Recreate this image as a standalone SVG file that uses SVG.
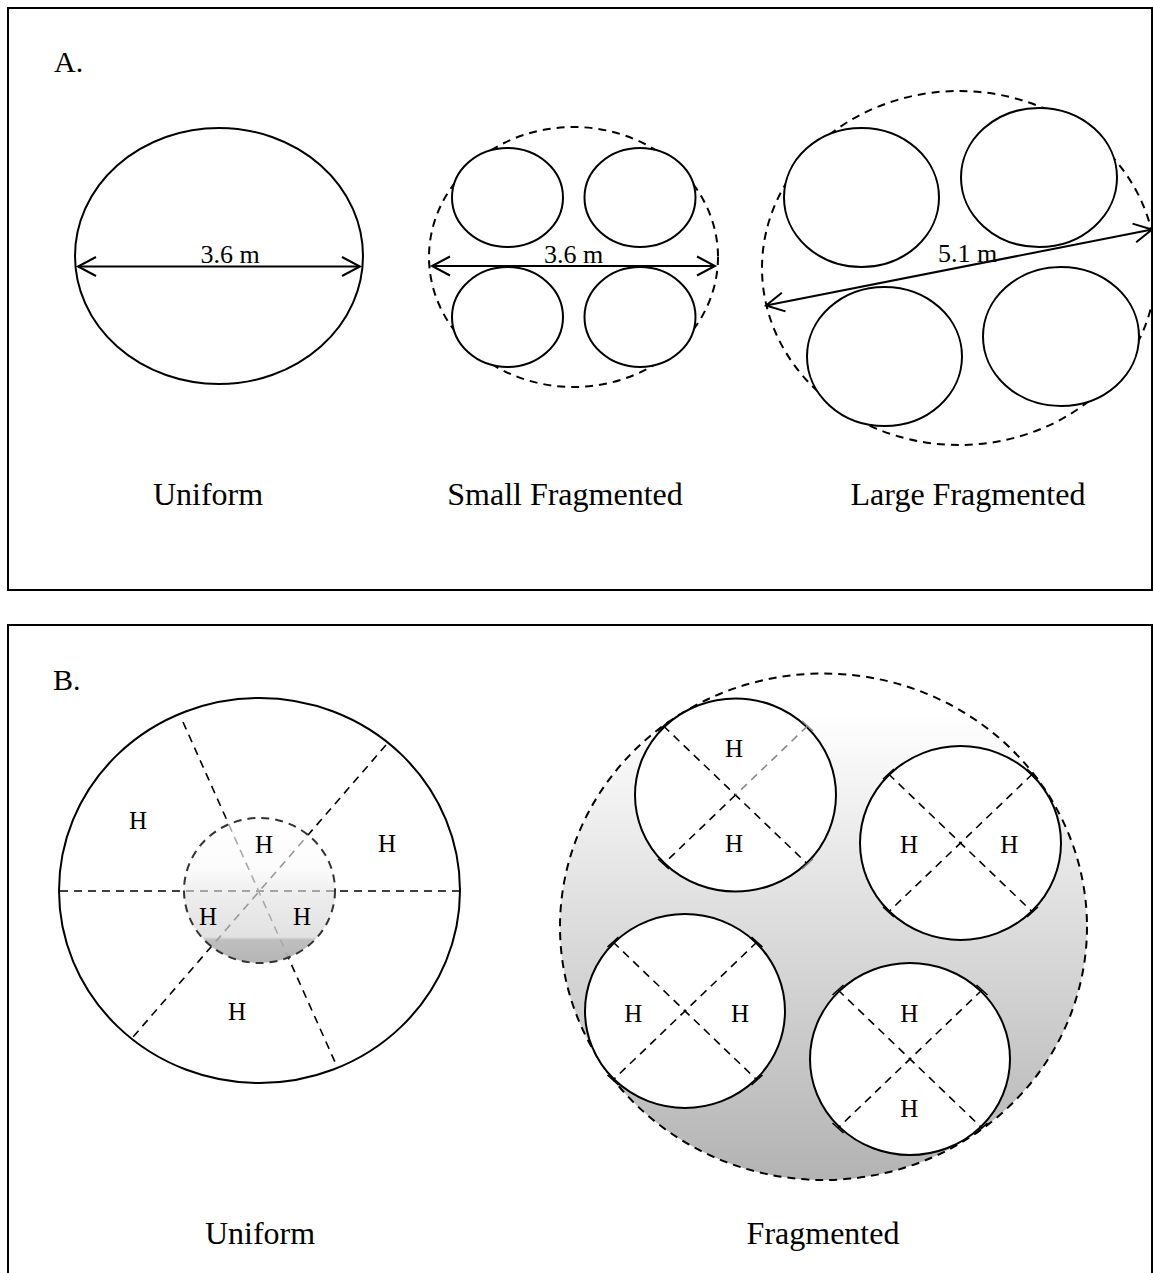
<svg xmlns="http://www.w3.org/2000/svg" width="1153" height="1273" viewBox="0 0 1153 1273">
<style>
.frame{fill:none;stroke:#000;stroke-width:2}
.solid{fill:#fff;stroke:#000;stroke-width:2}
.dashc{fill:none;stroke:#000;stroke-width:2;stroke-dasharray:8 6}
.dl{fill:none;stroke:#000;stroke-width:1.6;stroke-dasharray:8 6}
.tick{stroke:#000;stroke-width:1.6}
.arrow{stroke:#000;stroke-width:2;fill:none;marker-start:url(#arr);marker-end:url(#arr)}
.cap{font-family:"Liberation Serif","Times New Roman",serif;font-size:32px;fill:#000;text-anchor:middle}
.pl{font-family:"Liberation Serif","Times New Roman",serif;font-size:30px;fill:#000}
.dim{font-family:"Liberation Serif","Times New Roman",serif;font-size:26px;fill:#000;text-anchor:middle}
.h{font-family:"Liberation Serif","Times New Roman",serif;font-size:25px;fill:#000;text-anchor:middle}
</style>
<defs>
<marker id="arr" markerUnits="userSpaceOnUse" markerWidth="24" markerHeight="24" viewBox="0 0 24 24" refX="21" refY="12" orient="auto-start-reverse">
<path d="M3,2.5 L21,12 L3,21.5" fill="none" stroke="#000" stroke-width="2"/>
</marker>
<linearGradient id="gInner" x1="0" y1="0" x2="0" y2="1">
<stop offset="0" stop-color="#ffffff"/>
<stop offset="0.35" stop-color="#fbfbfb"/>
<stop offset="0.55" stop-color="#ececec"/>
<stop offset="0.82" stop-color="#e2e2e2"/>
<stop offset="0.84" stop-color="#bfbfbf"/>
<stop offset="1" stop-color="#b5b5b5"/>
</linearGradient>
<linearGradient id="gFrag" x1="0" y1="0" x2="0" y2="1">
<stop offset="0.08" stop-color="#ffffff"/>
<stop offset="1" stop-color="#b3b3b3"/>
</linearGradient>
<clipPath id="clipInner"><ellipse cx="259.5" cy="890.5" rx="75.5" ry="72.5"/></clipPath>
</defs>

<rect id="panelA" class="frame" x="8" y="8" width="1144" height="582"/>
<rect id="panelB" class="frame" x="8" y="625" width="1144" height="680"/>
<text class="pl" x="54" y="72">A.</text>
<text class="pl" x="53" y="690">B.</text>

<g id="A-uniform">
<ellipse class="solid" cx="219" cy="256" rx="144" ry="128"/>
<text class="dim" x="230" y="263">3.6 m</text>
<text class="cap" x="208" y="505">Uniform</text>
</g>

<g id="A-small">
<ellipse class="dashc" cx="573.5" cy="257" rx="144.5" ry="130"/>
<ellipse class="solid" cx="507.5" cy="197.5" rx="55.5" ry="49.5"/>
<ellipse class="solid" cx="640" cy="197.5" rx="55.5" ry="49.5"/>
<ellipse class="solid" cx="507.5" cy="317" rx="55.5" ry="50"/>
<ellipse class="solid" cx="640" cy="317" rx="55.5" ry="50"/>
<text class="cap" x="565" y="505">Small Fragmented</text>
</g>

<g id="A-large">
<ellipse class="dashc" cx="959" cy="268" rx="197" ry="177"/>
<ellipse class="solid" cx="861.5" cy="197.5" rx="77.5" ry="69.5"/>
<ellipse class="solid" cx="1039" cy="177.5" rx="78" ry="69.5"/>
<ellipse class="solid" cx="884.5" cy="356.5" rx="77.5" ry="69.5"/>
<ellipse class="solid" cx="1061" cy="336.5" rx="78" ry="69.5"/>
<text class="cap" x="968" y="505">Large Fragmented</text>
</g>

<g id="connectors">
<line class="arrow" x1="78" y1="266.5" x2="360" y2="266.5"/>
<line class="arrow" x1="432" y1="266" x2="715" y2="266"/>
<line class="arrow" x1="766" y1="305.5" x2="1152" y2="229.5"/>
</g>
<text class="dim" x="573.5" y="262.7">3.6 m</text>
<text class="dim" x="967.5" y="261.7">5.1 m</text>

<g id="B-uniform">
<ellipse class="solid" cx="259.5" cy="890.5" rx="200.5" ry="192.5"/>
<line class="dl" x1="60" y1="891" x2="459" y2="891"/>
<line class="dl" x1="183" y1="722" x2="335" y2="1062"/>
<line class="dl" x1="386" y1="745" x2="133" y2="1037"/>
<ellipse cx="259.5" cy="890.5" rx="75.5" ry="72.5" fill="url(#gInner)"/>
<g clip-path="url(#clipInner)">
<line class="dl" style="stroke:#8a8a8a" x1="60" y1="891" x2="459" y2="891"/>
<line class="dl" style="stroke:#aaaaaa" x1="183" y1="722" x2="335" y2="1062"/>
<line class="dl" style="stroke:#999999" x1="386" y1="745" x2="133" y2="1037"/>
</g>
<ellipse cx="259.5" cy="890.5" rx="75.5" ry="72.5" fill="none" stroke="#333" stroke-width="2" stroke-dasharray="8 6"/>
<text class="h" x="138" y="829">H</text>
<text class="h" x="264" y="853">H</text>
<text class="h" x="387" y="852">H</text>
<text class="h" x="208" y="925">H</text>
<text class="h" x="302" y="925">H</text>
<text class="h" x="237" y="1020">H</text>
<text class="cap" x="260" y="1244">Uniform</text>
</g>

<g id="B-fragmented">
<ellipse cx="823.5" cy="926.75" rx="263.5" ry="253.25" fill="url(#gFrag)" stroke="#000" stroke-width="2" stroke-dasharray="8 6"/>
<text class="cap" x="823" y="1244">Fragmented</text>
</g>

<g id="B-frag-c1">
<ellipse class="solid" cx="735.5" cy="795" rx="100.5" ry="96.5"/>
<line class="dl" x1="663.5" y1="726" x2="807.5" y2="864"/>
<line class="dl" style="stroke:#888" x1="807.5" y1="726" x2="735.5" y2="795"/>
<line class="dl" x1="735.5" y1="795" x2="663.5" y2="864"/>
<path class="tick" d="M658,731 L669,721 M658,859 L669,869"/>
<path class="tick" style="stroke:#888" d="M802,721 L813,731 M802,869 L813,859"/>
<text class="h" x="734" y="757">H</text>
<text class="h" x="734" y="852">H</text>
</g>

<g id="B-frag-c2">
<ellipse class="solid" cx="960.5" cy="843" rx="100.5" ry="97"/>
<line class="dl" x1="888.5" y1="774" x2="1032.5" y2="912"/>
<line class="dl" x1="1032.5" y1="774" x2="888.5" y2="912"/>
<path class="tick" d="M883,779 L894,769 M883,907 L894,917 M1027,769 L1038,779 M1027,917 L1038,907"/>
<text class="h" x="909" y="852.7">H</text>
<text class="h" x="1009.3" y="852.7">H</text>
</g>

<g id="B-frag-c3">
<ellipse class="solid" cx="685" cy="1011" rx="100" ry="97"/>
<line class="dl" x1="613" y1="942" x2="757" y2="1080"/>
<line class="dl" x1="757" y1="942" x2="613" y2="1080"/>
<path class="tick" d="M607.5,947 L618.5,937 M607.5,1075 L618.5,1085 M751.5,937 L762.5,947 M751.5,1085 L762.5,1075"/>
<text class="h" x="633.3" y="1021.7">H</text>
<text class="h" x="740" y="1021.7">H</text>
</g>

<g id="B-frag-c4">
<ellipse class="solid" cx="910" cy="1059" rx="100" ry="96"/>
<line class="dl" x1="838" y1="990" x2="982" y2="1128"/>
<line class="dl" x1="982" y1="990" x2="838" y2="1128"/>
<path class="tick" d="M832.5,995 L843.5,985 M832.5,1123 L843.5,1133 M976.5,985 L987.5,995 M976.5,1133 L987.5,1123"/>
<text class="h" x="909.3" y="1021.7">H</text>
<text class="h" x="909.3" y="1116.7">H</text>
</g>
</svg>
